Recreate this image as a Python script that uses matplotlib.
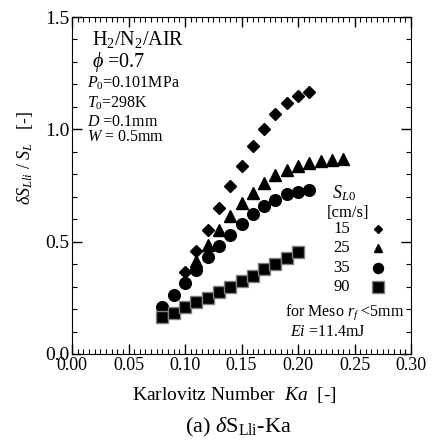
import numpy as np
import matplotlib
matplotlib.use("Agg")
import matplotlib.pyplot as plt
from matplotlib.ticker import MultipleLocator, FormatStrFormatter

plt.rcParams['font.family'] = ['Liberation Serif', 'DejaVu Serif']
plt.rcParams['mathtext.fontset'] = 'custom'
plt.rcParams['mathtext.rm'] = 'Liberation Serif'
plt.rcParams['mathtext.it'] = 'Liberation Serif:italic'

# S_L0 = 15 cm/s
ka15 = [0.10, 0.11, 0.12, 0.13, 0.14, 0.15, 0.16, 0.17, 0.18, 0.19, 0.20, 0.21]
ds15 = [0.363, 0.457, 0.554, 0.650, 0.747, 0.839, 0.925, 1.003, 1.067, 1.119, 1.149, 1.167]
# S_L0 = 25 cm/s
ka25 = [0.11, 0.12, 0.13, 0.14, 0.15, 0.16, 0.17, 0.18, 0.19, 0.20, 0.21, 0.22, 0.23, 0.24]
ds25 = [0.412, 0.483, 0.550, 0.613, 0.670, 0.717, 0.759, 0.795, 0.818, 0.839, 0.851, 0.859, 0.863, 0.866]
# S_L0 = 35 cm/s
ka35 = [0.08, 0.09, 0.10, 0.11, 0.12, 0.13, 0.14, 0.15, 0.16, 0.17, 0.18, 0.19, 0.20, 0.21]
ds35 = [0.211, 0.263, 0.318, 0.376, 0.430, 0.480, 0.531, 0.580, 0.621, 0.658, 0.684, 0.710, 0.720, 0.729]
# S_L0 = 90 cm/s
ka90 = [0.08, 0.09, 0.10, 0.11, 0.12, 0.13, 0.14, 0.15, 0.16, 0.17, 0.18, 0.19, 0.20]
ds90 = [0.164, 0.184, 0.208, 0.231, 0.251, 0.275, 0.298, 0.323, 0.345, 0.380, 0.400, 0.427, 0.455]

legend_labels = ['15', '25', '35', '90']

W, H = 434, 442
fig = plt.figure(figsize=(W / 100, H / 100), dpi=100)
ax = fig.add_axes([72 / W, 1 - 354 / H, (411 - 72) / W, (354 - 17) / H])

ax.plot(ka15, ds15, 'D', color='black', ms=5.8, ls='none')
ax.plot(ka25, ds25, '^', color='black', ms=8.4, ls='none')
ax.plot(ka35, ds35, 'o', color='black', ms=8.4, ls='none')
ax.plot(ka90, ds90, 's', color='black', mec='gray', mew=1, ms=8.2, ls='none')

ax.set_xlim(0, 0.30)
ax.set_ylim(0, 1.5)
ax.xaxis.set_major_locator(MultipleLocator(0.05))
ax.xaxis.set_minor_locator(MultipleLocator(0.005))
ax.yaxis.set_major_locator(MultipleLocator(0.5))
ax.yaxis.set_minor_locator(MultipleLocator(0.1))
ax.xaxis.set_major_formatter(FormatStrFormatter('%.2f'))
ax.yaxis.set_major_formatter(FormatStrFormatter('%.1f'))
ax.tick_params(which='both', direction='in', top=True, right=True, pad=2)
ax.tick_params(axis='x', labelsize=13)
ax.tick_params(axis='y', labelsize=14)
ax.tick_params(which='major', length=7, width=1)
ax.tick_params(which='minor', length=3.5, width=0.8)

def ft(x, y, s, **kw):
    fig.text(x / W, 1 - y / H, s, va='center', **kw)

# axis labels
ft(234, 395, r'Karlovitz Number  $Ka$  [-]', fontsize=14, ha='center')
fig.text(25 / W, 1 - 158 / H, r'$\delta S_{Lli}$ / $S_L$   [-]', fontsize=13,
         rotation=90, ha='center', va='center')

ft(92, 39, r'H$_2$/N$_2$/AIR', fontsize=14.5)
ft(92, 62, r'$\phi$ =0.7', fontsize=14.5)
ft(87, 83, r'$P_0$=0.101MPa', fontsize=11.5)
ft(87, 103, r'$T_0$=298K', fontsize=11.5)
ft(87, 122, r'$D$ =0.1mm', fontsize=11.5)
ft(87, 137, r'$W$ = 0.5mm', fontsize=11.5)

ft(332, 193, r'$S_{L0}$', fontsize=13)
ft(327, 213, '[cm/s]', fontsize=12)
leg_y = [229, 248, 268, 287]
leg_m = [('D', 4.2, 'black'), ('^', 5.6, 'black'), ('o', 7.2, 'black'), ('s', 8.2, 'gray')]
for lab, y, (m, s, ec) in zip(legend_labels, leg_y, leg_m):
    ft(333, y, lab, fontsize=12)
    fig.lines.append(plt.Line2D([378 / W], [1 - y / H], marker=m, ms=s, color='black',
                                mec=ec, transform=fig.transFigure))

ft(285, 312, r'for Meso $r_f$ <5mm', fontsize=11.5)
ft(290, 332, r'$Ei$ =11.4mJ', fontsize=11.5)

ft(238, 427, r'(a) $\delta$S$_{\mathrm{Lli}}$-Ka', fontsize=16, ha='center')

fig.savefig('out.png', dpi=100)
